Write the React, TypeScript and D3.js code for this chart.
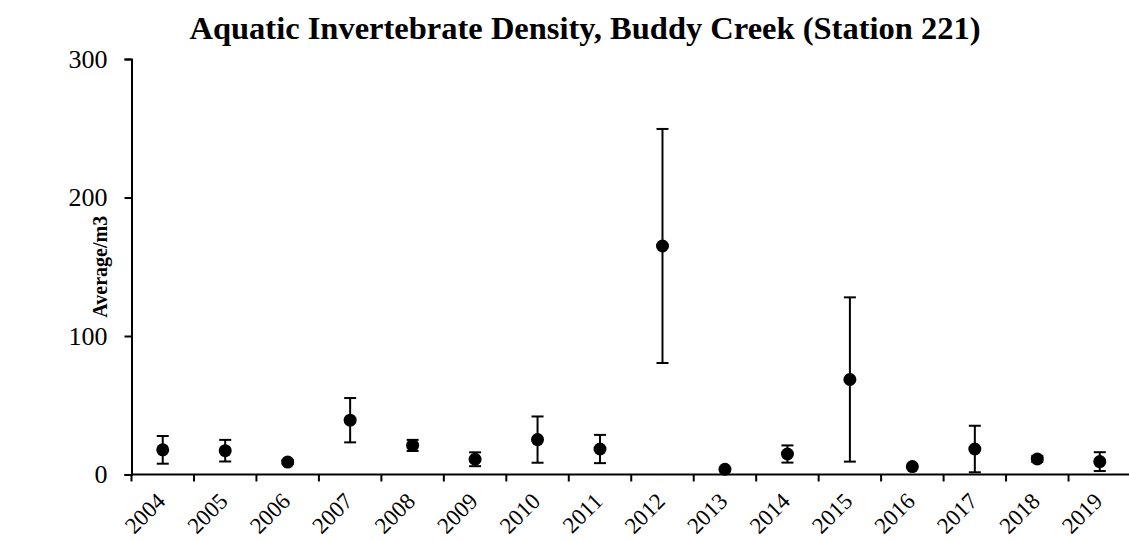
import React, { useEffect, useRef } from "react";
import * as d3 from "d3";

const years = ["2004", "2005", "2006", "2007", "2008", "2009", "2010", "2011",
  "2012", "2013", "2014", "2015", "2016", "2017", "2018", "2019"];
const means = [17.8, 17.2, 9.0, 39.2, 21.0, 11.0, 25.2, 18.4, 165.0, 3.8, 14.8, 68.6, 5.7, 18.4, 11.2, 9.3];
const errors = [10.0, 7.8, 1.5, 16.0, 4.0, 5.0, 16.7, 10.2, 84.5, 0, 6.2, 59.3, 0, 16.8, 2.2, 6.8];
const yTicks = [0, 100, 200, 300];

const App = () => {
  const svgRef = useRef<SVGSVGElement>(null);

  useEffect(() => {
    const width = 1129;
    const height = 540;
    const margin = { top: 59, right: -2, bottom: 65.5, left: 131.5 };
    const font = "'Liberation Serif', 'Times New Roman', serif";

    const svg = d3.select(svgRef.current)
      .attr("width", width)
      .attr("height", height);
    svg.selectAll("*").remove();

    const x = d3.scaleBand()
      .domain(years)
      .range([margin.left, width - margin.right])
      .padding(0);

    const y = d3.scaleLinear()
      .domain([0, 300])
      .range([height - margin.bottom, margin.top]);

    svg.append("text")
      .attr("x", 585)
      .attr("y", 39)
      .attr("text-anchor", "middle")
      .attr("font-family", font)
      .attr("font-weight", "bold")
      .attr("font-size", 32.5)
      .text("Aquatic Invertebrate Density, Buddy Creek (Station 221)");

    svg.append("text")
      .attr("transform", `translate(107, ${(y(0) + y(300)) / 2}) rotate(-90)`)
      .attr("text-anchor", "middle")
      .attr("font-family", font)
      .attr("font-weight", "bold")
      .attr("font-size", 20)
      .text("Average/m3");

    // y axis
    const yAxis = svg.append("g")
      .attr("transform", `translate(${margin.left}, 0)`)
      .call(d3.axisLeft(y).tickValues(yTicks).tickSize(7).tickPadding(17).tickFormat(d3.format("d")));
    yAxis.select(".domain").attr("stroke", "#000").attr("stroke-width", 2);
    yAxis.selectAll(".tick line").attr("stroke", "#000").attr("stroke-width", 2);
    yAxis.selectAll(".tick text")
      .attr("font-family", font)
      .attr("font-size", 26)
      .attr("fill", "#000");

    // x axis, ticks sit on the category boundaries
    const xg = svg.append("g")
      .attr("transform", `translate(0, ${y(0)})`);
    xg.append("line")
      .attr("x1", margin.left)
      .attr("x2", width - margin.right)
      .attr("stroke", "#000")
      .attr("stroke-width", 2);
    xg.selectAll(".xtick")
      .data(years)
      .enter().append("line")
      .attr("x1", d => x(d)!)
      .attr("x2", d => x(d)!)
      .attr("y1", 0)
      .attr("y2", 7)
      .attr("stroke", "#000")
      .attr("stroke-width", 2);
    xg.selectAll(".xlabel")
      .data(years)
      .enter().append("text")
      .attr("transform", d => `translate(${x(d)! + x.bandwidth() / 2 + 4}, 28) rotate(-45)`)
      .attr("text-anchor", "end")
      .attr("font-family", font)
      .attr("font-size", 23)
      .text(d => d);

    const pts = years.map((yr, i) => ({ yr, m: means[i], e: errors[i] }));
    const cap = 6;
    const cx = (yr: string) => x(yr)! + x.bandwidth() / 2;

    const eb = svg.append("g")
      .attr("stroke", "#000")
      .attr("stroke-width", 2)
      .selectAll("g")
      .data(pts.filter(d => d.e > 0))
      .enter().append("g");
    eb.append("line")
      .attr("x1", d => cx(d.yr))
      .attr("x2", d => cx(d.yr))
      .attr("y1", d => y(d.m - d.e))
      .attr("y2", d => y(d.m + d.e));
    eb.append("line")
      .attr("x1", d => cx(d.yr) - cap)
      .attr("x2", d => cx(d.yr) + cap)
      .attr("y1", d => y(d.m + d.e))
      .attr("y2", d => y(d.m + d.e));
    eb.append("line")
      .attr("x1", d => cx(d.yr) - cap)
      .attr("x2", d => cx(d.yr) + cap)
      .attr("y1", d => y(d.m - d.e))
      .attr("y2", d => y(d.m - d.e));

    svg.append("g")
      .selectAll("circle")
      .data(pts)
      .enter().append("circle")
      .attr("cx", d => cx(d.yr))
      .attr("cy", d => y(d.m))
      .attr("r", 6.5)
      .attr("fill", "#000");
  }, []);

  return (
    <svg ref={svgRef} style={{ position: "absolute", left: 0, top: 0 }}></svg>
  );
};

export default App;
